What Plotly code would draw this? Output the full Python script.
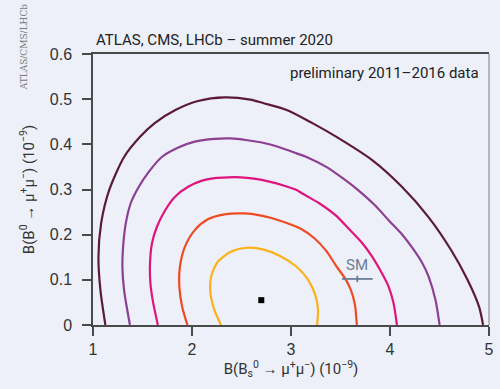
import plotly.graph_objects as go

# Two-dimensional likelihood contours (1 to 5 sigma) as (x, y) outlines
contour_labels = ["5σ", "4σ", "3σ", "2σ", "1σ"]

c5_x = [1.125, 1.075, 1.055, 1.082, 1.164, 1.314, 1.473, 1.623, 1.832, 2.061, 2.330,
        2.589, 2.725, 2.957, 3.207, 3.455, 3.820, 4.120, 4.385, 4.617, 4.783,
        4.900, 4.940]
c5_y = [0.0, 0.077, 0.150, 0.225, 0.299, 0.372, 0.416, 0.447, 0.476, 0.496, 0.504,
        0.499, 0.491, 0.476, 0.448, 0.417, 0.365, 0.306, 0.240, 0.166, 0.100,
        0.040, 0.0]

c4_x = [1.373, 1.314, 1.297, 1.307, 1.331, 1.380, 1.463, 1.563, 1.695, 1.862, 2.028,
        2.227, 2.392, 2.559, 2.725, 2.890, 3.057, 3.157, 3.356, 3.522, 3.687, 3.853,
        3.986, 4.120, 4.219, 4.319, 4.390, 4.460, 4.501]
c4_y = [0.0, 0.077, 0.129, 0.181, 0.225, 0.269, 0.306, 0.339, 0.372, 0.393, 0.406,
        0.412, 0.413, 0.409, 0.403, 0.393, 0.380, 0.372, 0.350, 0.325, 0.297, 0.264,
        0.232, 0.201, 0.173, 0.140, 0.107, 0.055, 0.0]

c3_x = [1.655, 1.603, 1.580, 1.576, 1.596, 1.645, 1.729, 1.829, 1.961, 2.094, 2.227,
        2.360, 2.492, 2.625, 2.791, 2.924, 3.057, 3.124, 3.289, 3.455, 3.588, 3.721,
        3.821, 3.920, 3.986, 4.036, 4.070]
c3_y = [0.0, 0.055, 0.092, 0.137, 0.181, 0.217, 0.254, 0.284, 0.306, 0.319, 0.325,
        0.327, 0.327, 0.324, 0.317, 0.309, 0.299, 0.290, 0.269, 0.242, 0.212, 0.181,
        0.151, 0.114, 0.085, 0.048, 0.0]

c2_x = [1.954, 1.901, 1.872, 1.878, 1.928, 2.028, 2.160, 2.327, 2.526, 2.725, 2.890,
        3.090, 3.236, 3.356, 3.456, 3.555, 3.605, 3.645, 3.665]
c2_y = [0.0, 0.040, 0.085, 0.129, 0.173, 0.210, 0.234, 0.245, 0.247, 0.241, 0.231,
        0.214, 0.192, 0.164, 0.131, 0.100, 0.077, 0.046, 0.0]

c1_x = [2.293, 2.227, 2.187, 2.193, 2.260, 2.392, 2.559, 2.725, 2.890, 3.057, 3.173,
        3.246, 3.273, 3.263]
c1_y = [0.0, 0.033, 0.070, 0.107, 0.140, 0.162, 0.171, 0.167, 0.153, 0.129, 0.100,
        0.066, 0.033, 0.0]

contour_colors = ["#5b1a3c", "#8d3f93", "#e0147e", "#ef4b23", "#fbb119"]

# Best-fit point and Standard Model prediction
best_x = [2.70]
best_y = [0.055]
sm_x = [3.67]
sm_y = [0.102]
sm_xerr = [0.155]
sm_yerr = [0.007]

x_ticks = [1, 2, 3, 4, 5]
y_ticks = [0, 0.1, 0.2, 0.3, 0.4, 0.5, 0.6]
y_tick_text = ["0", "0.1", "0.2", "0.3", "0.4", "0.5", "0.6"]

bg = "#edf0f8"
axis_col = "#4a4a4a"
sm_col = "#6c7d96"
narrow = "Liberation Sans Narrow, Roboto, Liberation Sans"

fig = go.Figure()

contours = [(c5_x, c5_y), (c4_x, c4_y), (c3_x, c3_y), (c2_x, c2_y), (c1_x, c1_y)]
for (cx, cy), col, lab in zip(contours, contour_colors, contour_labels):
    fig.add_trace(go.Scatter(
        x=cx, y=cy, mode="lines", name=lab,
        line=dict(color=col, width=2.2, shape="spline", smoothing=0.75),
        hoverinfo="skip",
    ))

fig.add_trace(go.Scatter(
    x=best_x, y=best_y, mode="markers", name="best fit",
    marker=dict(symbol="square", size=6, color="black"),
))

fig.add_trace(go.Scatter(
    x=sm_x, y=sm_y, mode="markers", name="SM",
    marker=dict(size=1, color=sm_col),
    error_x=dict(type="data", array=sm_xerr, color=sm_col, thickness=1.8, width=0),
    error_y=dict(type="data", array=sm_yerr, color=sm_col, thickness=1.8, width=0),
))
fig.add_annotation(
    text="SM", x=sm_x[0], y=sm_y[0], xref="x", yref="y", yanchor="middle",
    yshift=14, showarrow=False, font=dict(family=narrow, size=15, color=sm_col),
)

fig.update_layout(
    width=500, height=389,
    margin=dict(l=93, r=6, t=54, b=64),
    paper_bgcolor=bg, plot_bgcolor=bg,
    showlegend=False,
    font=dict(family="Liberation Sans, Arial, sans-serif", color="#333333"),
)

fig.update_xaxes(
    range=[1, 5], tickvals=x_ticks, ticks="outside", ticklen=9, tickwidth=1.5,
    tickcolor=axis_col, showline=True, linecolor=axis_col, linewidth=1.5,
    mirror=True, showgrid=False, zeroline=False,
    tickfont=dict(size=16, color="#333333"),
    title=dict(text="B(B<sub>s</sub><sup>0</sup> → μ<sup>+</sup>μ<sup>−</sup>) (10<sup>−9</sup>)",
               font=dict(family=narrow, size=15, color="#333333"), standoff=4),
)
fig.update_yaxes(
    range=[0, 0.6], tickvals=y_ticks, ticktext=y_tick_text, ticks="outside",
    ticklen=9, tickwidth=1.5, tickcolor=axis_col, showline=True, linecolor=axis_col,
    linewidth=1.5, mirror=False, showgrid=False, zeroline=False,
    ticklabelstandoff=7,
    tickfont=dict(size=16, color="#333333"),
    title=dict(text="B(B<sup>0</sup> → μ<sup>+</sup>μ<sup>−</sup>) (10<sup>−9</sup>)",
               font=dict(family=narrow, size=15, color="#333333"), standoff=12),
)

# lighter right-hand frame line
fig.add_shape(type="line", xref="paper", yref="paper", x0=1, x1=1, y0=0, y1=1,
              line=dict(color="#7d7d7d", width=1))

fig.add_annotation(
    text="ATLAS, CMS, LHCb – summer 2020", xref="paper", yref="paper",
    x=0.003, y=1.0, xanchor="left", yanchor="bottom", yshift=3, showarrow=False,
    font=dict(family=narrow, size=15, color="#222222"),
)
fig.add_annotation(
    text="preliminary 2011–2016 data", xref="paper", yref="paper",
    x=0.98, y=0.97, xanchor="right", yanchor="top", showarrow=False,
    font=dict(family=narrow, size=15, color="#222222"),
)
fig.add_annotation(
    text="ATLAS/CMS/LHCb", xref="paper", yref="paper",
    x=-0.175, y=1.195, xanchor="center", yanchor="top", textangle=-90, showarrow=False,
    font=dict(family="DejaVu Serif, Liberation Serif, serif", size=9, color="#7a7a7a"),
)

fig.write_html("out.html")
